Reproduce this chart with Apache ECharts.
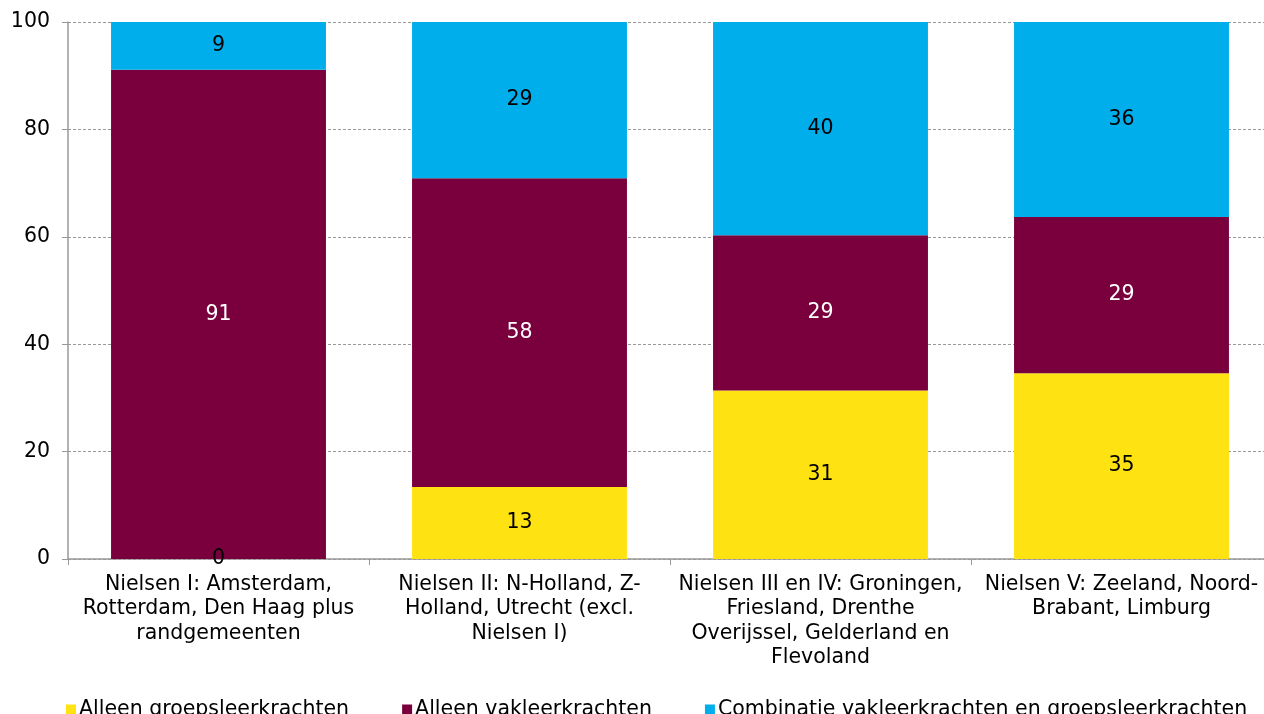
<!DOCTYPE html>
<html>
<head>
<meta charset="utf-8">
<script src="https://cdn.jsdelivr.net/npm/echarts@6/dist/echarts.min.js"></script>
<style>
  html, body { margin: 0; padding: 0; background: #fff; }
  #chart { width: 1264px; height: 714px; }
</style>
</head>
<body>
<div id="chart"></div>
<script>
// categories (regio's)
var categories = [
  "Nielsen I: Amsterdam,\nRotterdam, Den Haag plus\nrandgemeenten",
  "Nielsen II: N-Holland, Z-\nHolland, Utrecht (excl.\nNielsen I)",
  "Nielsen III en IV: Groningen,\nFriesland, Drenthe\nOverijssel, Gelderland en\nFlevoland",
  "Nielsen V: Zeeland, Noord-\nBrabant, Limburg"
];
var seriesNames = [
  "Alleen groepsleerkrachten",
  "Alleen vakleerkrachten",
  "Combinatie vakleerkrachten en groepsleerkrachten"
];
// percentages
var groep = [0, 13.4, 31.4, 34.6];
var vak = [91.1, 57.5, 28.9, 29.1];
var combi = [8.9, 29.1, 39.7, 36.3];
var yTicks = [0, 20, 40, 60, 80, 100];

var font = "DejaVu Sans";
var fs = 20.5;
var myChart = echarts.init(document.getElementById("chart"));

function lbl(color) {
  return {
    show: true,
    position: "inside",
    color: color,
    fontFamily: font,
    fontSize: fs,
    formatter: function (p) { return Math.round(p.value); }
  };
}

myChart.setOption({
  animation: false,
  textStyle: { fontFamily: font },
  grid: { left: 68, top: 22, width: 1204, height: 537, outerBoundsMode: "none" },
  legend: {
    left: 61,
    top: 694,
    itemWidth: 10,
    itemHeight: 10,
    itemGap: 53,
    icon: "rect",
    textStyle: { fontFamily: font, fontSize: fs, color: "#000", padding: [0, 0, 0, -2] },
    data: seriesNames
  },
  xAxis: {
    type: "category",
    data: categories,
    axisLine: { lineStyle: { color: "#999", width: 1.5 } },
    axisTick: { show: true, length: 6, lineStyle: { color: "#999" } },
    axisLabel: {
      color: "#000",
      fontFamily: font,
      fontSize: fs,
      lineHeight: 24.5,
      margin: 13,
      interval: 0
    }
  },
  yAxis: {
    type: "value",
    min: yTicks[0],
    max: yTicks[yTicks.length - 1],
    interval: 20,
    axisLine: { show: true, lineStyle: { color: "#999", width: 1.5 } },
    axisTick: { show: true, length: 6, lineStyle: { color: "#999" } },
    axisLabel: { color: "#000", fontFamily: font, fontSize: fs, margin: 18 },
    splitLine: { show: true, lineStyle: { color: "#999", type: [3, 2] } }
  },
  series: [
    {
      name: seriesNames[0],
      type: "bar",
      stack: "total",
      barCategoryGap: "28.6%",
      itemStyle: { color: "#FFE212" },
      label: lbl("#000"),
      data: groep
    },
    {
      name: seriesNames[1],
      type: "bar",
      stack: "total",
      itemStyle: { color: "#7A003D" },
      label: lbl("#fff"),
      data: vak
    },
    {
      name: seriesNames[2],
      type: "bar",
      stack: "total",
      itemStyle: { color: "#00AEEB" },
      label: lbl("#000"),
      data: combi
    }
  ]
});
</script>
</body>
</html>
